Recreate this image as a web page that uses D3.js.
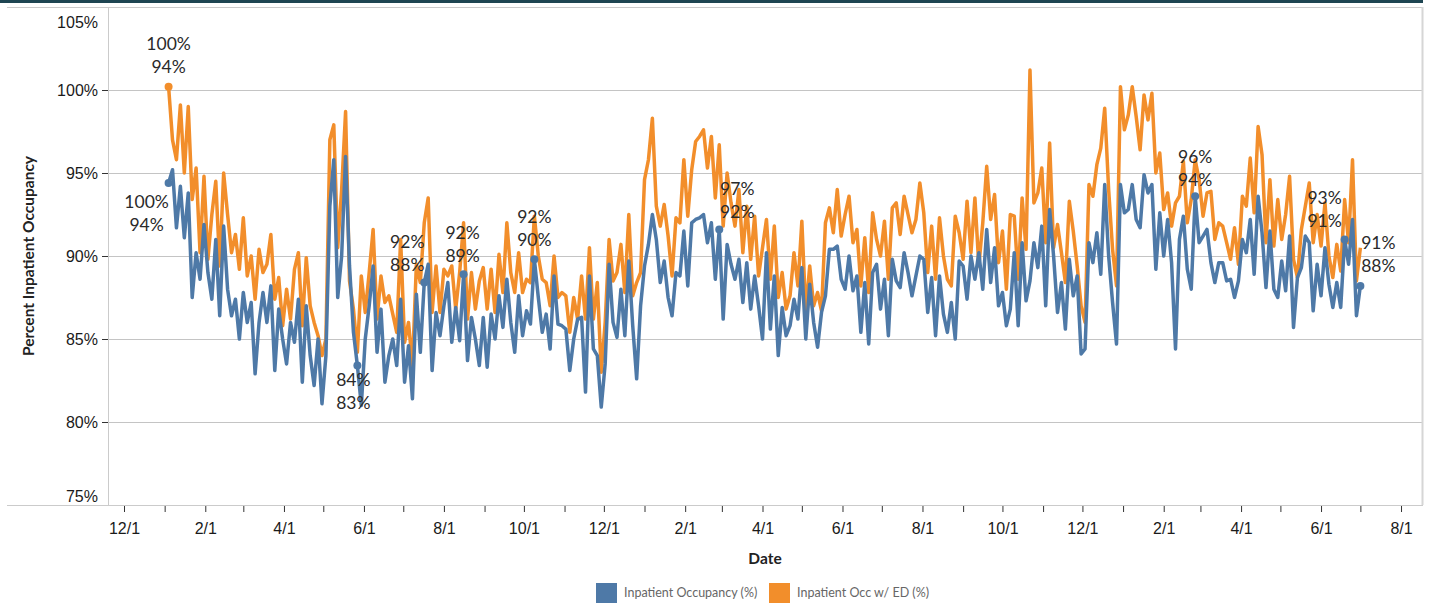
<!DOCTYPE html>
<html>
<head>
<meta charset="utf-8">
<script src="https://cdn.jsdelivr.net/npm/d3@7"></script>
<style>
body { margin: 0; background: #fff; }
svg { font-family: Lato, "Open Sans", sans-serif; }
</style>
</head>
<body>
<div id="chart"></div>
<script>
// one reading every 3 days starting 4 Jan 2020
const firstDay = "2020-01-04";
const stepDays = 3;

// Inpatient Occupancy (%)
const occupancy = [
  94.4, 95.2, 91.7, 94.2, 91.1, 93.8, 87.5, 90.2, 88.6, 91.9,
  89.0, 87.4, 91.0, 86.4, 91.8, 88.0, 86.4, 87.4, 85.0, 87.8,
  86.0, 87.2, 82.9, 86.0, 87.8, 86.0, 88.2, 83.1, 86.8, 85.0,
  83.5, 86.0, 84.8, 87.4, 82.4, 87.0, 84.0, 82.2, 85.0, 81.1,
  84.0, 93.0, 95.8, 87.5, 90.0, 96.0, 89.4, 85.4, 83.4, 81.0,
  85.0, 87.0, 89.4, 84.2, 86.8, 82.4, 84.0, 85.0, 83.4, 87.4,
  82.4, 84.6, 81.4, 87.7, 84.2, 88.4, 89.5, 83.1, 86.6, 85.2,
  87.0, 88.4, 84.8, 86.9, 84.9, 88.9, 83.7, 86.3, 85.0, 83.4,
  86.3, 83.3, 86.5, 85.0, 87.6, 85.7, 88.6, 86.0, 84.2, 87.6,
  85.2, 86.7, 85.9, 89.8, 87.5, 85.4, 86.5, 84.4, 88.8, 85.9,
  85.8, 85.6, 83.1, 85.0, 86.2, 86.3, 81.8, 88.8, 84.4, 84.0,
  80.9, 83.5, 89.5, 86.0, 85.1, 88.0, 85.2, 89.7, 85.8, 82.6,
  87.0, 89.4, 90.7, 92.5, 91.0, 88.4, 89.7, 87.5, 86.4, 89.0,
  88.8, 91.5, 88.2, 92.0, 92.2, 92.3, 92.5, 90.8, 92.0, 88.6,
  91.6, 86.2, 90.7, 89.5, 88.6, 89.8, 87.2, 89.6, 86.8, 88.8,
  87.0, 85.0, 90.2, 85.6, 88.8, 84.0, 86.9, 85.2, 85.8, 87.4,
  86.2, 89.3, 85.0, 88.3, 86.0, 84.5, 86.6, 87.6, 90.4, 90.4,
  90.6, 88.6, 88.0, 90.0, 87.9, 88.8, 85.4, 88.4, 84.7, 89.0,
  89.5, 86.8, 88.6, 85.2, 89.8, 88.5, 88.1, 90.2, 89.0, 87.6,
  88.8, 90.0, 89.8, 86.6, 88.7, 85.2, 88.8, 86.5, 85.4, 87.2,
  85.0, 89.7, 89.4, 87.4, 90.0, 88.6, 90.2, 88.0, 91.6, 88.4,
  90.5, 87.0, 87.8, 85.8, 86.8, 90.2, 85.8, 90.8, 87.3, 88.5,
  90.8, 89.3, 91.8, 87.0, 92.8, 90.0, 86.6, 88.4, 85.6, 89.8,
  87.6, 88.8, 84.1, 84.4, 90.8, 89.6, 91.4, 88.9, 94.3, 90.0,
  87.2, 84.7, 94.3, 92.6, 92.8, 94.3, 92.2, 91.7, 94.9, 93.8,
  94.3, 89.2, 92.6, 90.0, 92.2, 89.6, 84.4, 91.0, 92.4, 89.2,
  88.0, 93.6, 90.8, 91.2, 91.6, 89.6, 88.4, 89.6, 89.6, 88.5,
  88.6, 87.5, 88.5, 91.0, 90.2, 92.2, 88.9, 93.6, 91.4, 88.1,
  91.5, 88.0, 87.5, 89.7, 87.9, 91.2, 85.7, 88.7, 89.3, 91.2,
  90.8, 86.7, 89.5, 87.6, 90.5, 88.3, 86.9, 88.4, 86.9, 91.0,
  89.5, 92.2, 86.4, 88.2
];

// Inpatient Occ w/ ED (%)
const occWithED = [
  100.2, 97.0, 95.8, 99.1, 95.0, 99.0, 93.4, 95.3, 90.2, 94.8,
  89.8, 92.5, 94.5, 89.4, 95.0, 92.5, 90.2, 91.3, 89.2, 92.3,
  88.8, 90.0, 87.4, 90.4, 89.0, 89.5, 91.3, 87.4, 88.7, 85.8,
  88.0, 86.2, 89.2, 90.2, 85.8, 89.9, 87.0, 86.0, 85.2, 84.0,
  85.0, 97.0, 97.9, 90.5, 94.0, 98.7, 88.5, 86.8, 84.2, 88.8,
  86.6, 89.0, 91.6, 86.2, 88.8, 87.2, 87.6, 86.5, 85.4, 91.0,
  84.8, 86.0, 83.4, 89.5, 88.4, 92.0, 93.5, 86.6, 89.4, 86.6,
  89.2, 88.8, 89.4, 86.8, 89.0, 92.0, 86.2, 89.0, 86.8, 88.5,
  89.3, 86.8, 89.2, 86.6, 90.1, 87.8, 92.0, 89.0, 87.8, 90.2,
  87.8, 88.6, 88.4, 92.4, 90.0, 88.6, 88.4, 87.0, 90.0, 87.5,
  87.8, 87.6, 85.4, 87.5, 86.2, 88.8, 86.2, 90.5, 86.2, 88.4,
  83.0, 86.0, 91.0, 88.5, 89.0, 90.7, 87.8, 92.5, 87.6, 88.4,
  89.0, 94.6, 95.8, 98.3, 93.0, 91.8, 93.1, 91.2, 88.8, 92.3,
  92.0, 95.8, 92.4, 95.2, 96.9, 97.2, 97.6, 95.3, 97.2, 93.5,
  96.7, 91.8, 95.0, 93.2, 91.8, 94.0, 90.2, 93.0, 89.8, 92.4,
  88.8, 90.5, 92.2, 88.6, 91.8, 87.5, 89.0, 86.8, 87.6, 90.2,
  88.2, 92.1, 86.6, 89.4, 87.0, 87.8, 86.7, 92.0, 92.9, 91.4,
  94.0, 91.2, 92.5, 93.6, 90.8, 91.6, 88.2, 91.1, 87.8, 92.6,
  91.0, 90.0, 92.1, 88.6, 92.9, 93.2, 91.3, 93.6, 92.5, 91.4,
  92.2, 94.4, 92.6, 89.0, 91.8, 88.6, 92.3, 90.0, 88.6, 88.2,
  92.4, 91.4, 89.8, 93.3, 90.2, 93.5, 89.4, 92.0, 95.4, 92.2,
  93.7, 89.6, 91.5, 88.0, 92.5, 92.4, 88.6, 93.5, 90.4, 101.2,
  93.2, 93.8, 95.3, 90.8, 96.8, 90.5, 91.9, 90.2, 88.4, 93.3,
  91.5, 89.4, 87.0, 86.0, 94.3, 93.6, 95.5, 96.5, 98.9, 94.0,
  90.4, 88.2, 100.2, 97.6, 98.5, 100.2, 98.4, 96.4, 99.7, 98.2,
  99.8, 95.0, 96.2, 92.8, 93.8, 91.8, 93.2, 93.6, 95.7, 92.0,
  93.4, 95.8, 94.6, 92.4, 93.8, 93.9, 91.0, 92.0, 91.8, 90.8,
  89.8, 91.7, 89.5, 93.6, 93.0, 95.9, 92.6, 97.8, 96.1, 90.8,
  94.6, 90.6, 93.4, 91.0, 92.5, 94.8, 89.8, 88.7, 91.6, 93.0,
  94.4, 90.8, 92.5, 90.6, 93.2, 90.0, 88.7, 90.7, 89.1, 93.4,
  90.8, 95.8, 88.5, 90.5
];

const seriesNames = ["Inpatient Occupancy (%)", "Inpatient Occ w/ ED (%)"];
const yTicks = [75, 80, 85, 90, 95, 100, 105];

// labelled marks: index into the series, and which line the label hangs on
const labelIdx = [0, 0, 48, 65, 75, 93, 140, 261, 299, 303];
const labelOn = ["ed", "occ", "occ", "occ", "occ", "occ", "occ", "occ", "occ", "occ"];

// label placement (dx, dy of first line from its mark)
const labelOffset = [[0, -43], [-22, 19], [-4, 14], [-17, -41], [-1, -41], [0, -42], [18, -41], [0, -39], [-20, -42], [18, -43]];

const W = 1429, H = 604;
const plotLeft = 108, plotRight = 1422, plotTop = 7, plotBottom = 505;
const blue = "#4e79a7", orange = "#f28e2b";

const svg = d3.select("#chart").append("svg")
  .attr("width", W)
  .attr("height", H);

const start = d3.isoParse(firstDay);
const data = occupancy.map((v, i) => ({
  date: d3.utcDay.offset(start, i * stepDays),
  occ: v,
  ed: occWithED[i]
}));

const x = d3.scaleUtc()
  .domain([new Date(Date.UTC(2019, 10, 18, 19)), new Date(Date.UTC(2022, 7, 17))])
  .range([plotLeft, plotRight]);

const y = d3.scaleLinear()
  .domain([75, 105])
  .range([plotBottom, plotTop]);

// dark band on top
svg.append("rect")
  .attr("x", 0).attr("y", 0)
  .attr("width", 1423).attr("height", 3)
  .attr("fill", "#1e4552");

// gridlines
svg.append("g")
  .selectAll("line")
  .data(yTicks.filter(t => t > 75 && t < 105))
  .enter()
  .append("line")
  .attr("x1", plotLeft).attr("x2", plotRight)
  .attr("y1", d => Math.round(y(d)) + 0.5)
  .attr("y2", d => Math.round(y(d)) + 0.5)
  .attr("stroke", "#c4c4c4");

// frame
const frame = svg.append("g").attr("stroke", "#cbcbcb").attr("fill", "none");
frame.append("line").attr("x1", 7).attr("x2", 1423).attr("y1", plotTop + 0.5).attr("y2", plotTop + 0.5);
frame.append("line").attr("x1", 7).attr("x2", 1423).attr("y1", plotBottom + 0.5).attr("y2", plotBottom + 0.5);
frame.append("line").attr("x1", plotRight + 0.5).attr("x2", plotRight + 0.5).attr("y1", plotTop).attr("y2", plotBottom)
  .attr("stroke-width", 2).attr("stroke", "#d6d6d6");
frame.append("line").attr("x1", plotLeft + 0.5).attr("x2", plotLeft + 0.5).attr("y1", plotTop).attr("y2", plotBottom);

// y axis
const yAxis = svg.append("g")
  .attr("transform", `translate(${plotLeft},0)`)
  .call(d3.axisLeft(y).tickValues(yTicks).tickFormat(d => d + "%").tickSize(6).tickPadding(4));
yAxis.select(".domain").remove();
yAxis.selectAll(".tick line").attr("stroke", "#333")
  .attr("opacity", d => (d === 75 || d === 105) ? 0 : 1);
yAxis.selectAll(".tick text")
  .attr("font-size", 16)
  .attr("fill", "#1a1a1a")
  .attr("dy", d => d === 105 ? "1.3em" : d === 75 ? "-0.2em" : "0.32em");

// x axis
const xAxis = svg.append("g")
  .attr("transform", `translate(0,${plotBottom})`)
  .call(d3.axisBottom(x)
    .ticks(d3.utcMonth.every(1))
    .tickFormat(d => d.getUTCMonth() % 2 === 1 ? (d.getUTCMonth() + 1) + "/1" : "")
    .tickSize(7));
xAxis.select(".domain").remove();
xAxis.selectAll(".tick line").attr("stroke", "#333").attr("y1", 1);
xAxis.selectAll(".tick text")
  .attr("y", 23)
  .attr("dy", "0.35em")
  .attr("font-size", 16)
  .attr("fill", "#1a1a1a");

// axis titles
svg.append("text")
  .attr("x", (plotLeft + plotRight) / 2)
  .attr("y", 560)
  .attr("text-anchor", "middle")
  .attr("dominant-baseline", "middle")
  .attr("font-size", 15.5)
  .attr("font-weight", "bold")
  .attr("fill", "#222")
  .text("Date");

svg.append("text")
  .attr("transform", "translate(30,256) rotate(-90)")
  .attr("text-anchor", "middle")
  .attr("dominant-baseline", "middle")
  .attr("font-size", 15.5)
  .attr("font-weight", "bold")
  .attr("fill", "#222")
  .text("Percent Inpatient Occupancy");

// lines
const lineED = d3.line().x(d => x(d.date)).y(d => y(d.ed));
const lineOcc = d3.line().x(d => x(d.date)).y(d => y(d.occ));

svg.append("path")
  .datum(data)
  .attr("d", lineED)
  .attr("fill", "none")
  .attr("stroke", orange)
  .attr("stroke-width", 3.5)
  .attr("stroke-linejoin", "round");

svg.append("path")
  .datum(data)
  .attr("d", lineOcc)
  .attr("fill", "none")
  .attr("stroke", blue)
  .attr("stroke-width", 3.5)
  .attr("stroke-linejoin", "round");

// marks and labels
const fmt = v => Math.round(v) + "%";
const labels = labelIdx.map((idx, i) => ({ d: data[idx], on: labelOn[i], off: labelOffset[i] }));

svg.append("g")
  .selectAll("circle")
  .data(labels)
  .enter()
  .append("circle")
  .attr("cx", d => x(d.d.date))
  .attr("cy", d => y(d.d[d.on]))
  .attr("r", 4)
  .attr("fill", d => d.on === "ed" ? orange : blue);

const lab = svg.append("g")
  .selectAll("text")
  .data(labels)
  .enter()
  .append("text")
  .attr("text-anchor", "middle")
  .attr("font-size", 17.5)
  .attr("fill", "#2a2a2a");

lab.append("tspan")
  .attr("x", d => x(d.d.date) + d.off[0])
  .attr("y", d => y(d.d[d.on]) + d.off[1])
  .attr("dy", "0.35em")
  .text(d => fmt(d.d.ed));

lab.append("tspan")
  .attr("x", d => x(d.d.date) + d.off[0])
  .attr("y", d => y(d.d[d.on]) + d.off[1] + 23)
  .attr("dy", "0.35em")
  .text(d => fmt(d.d.occ));

// legend
const legend = svg.append("g")
  .selectAll("g")
  .data(seriesNames)
  .enter()
  .append("g")
  .attr("transform", (d, i) => `translate(${i === 0 ? 596 : 769},583)`);

legend.append("rect")
  .attr("width", 21)
  .attr("height", 20)
  .attr("fill", (d, i) => i === 0 ? blue : orange);

legend.append("text")
  .attr("x", 28)
  .attr("y", 11)
  .attr("dominant-baseline", "middle")
  .attr("font-size", 12.5)
  .attr("fill", "#666")
  .text(d => d);
</script>
</body>
</html>
